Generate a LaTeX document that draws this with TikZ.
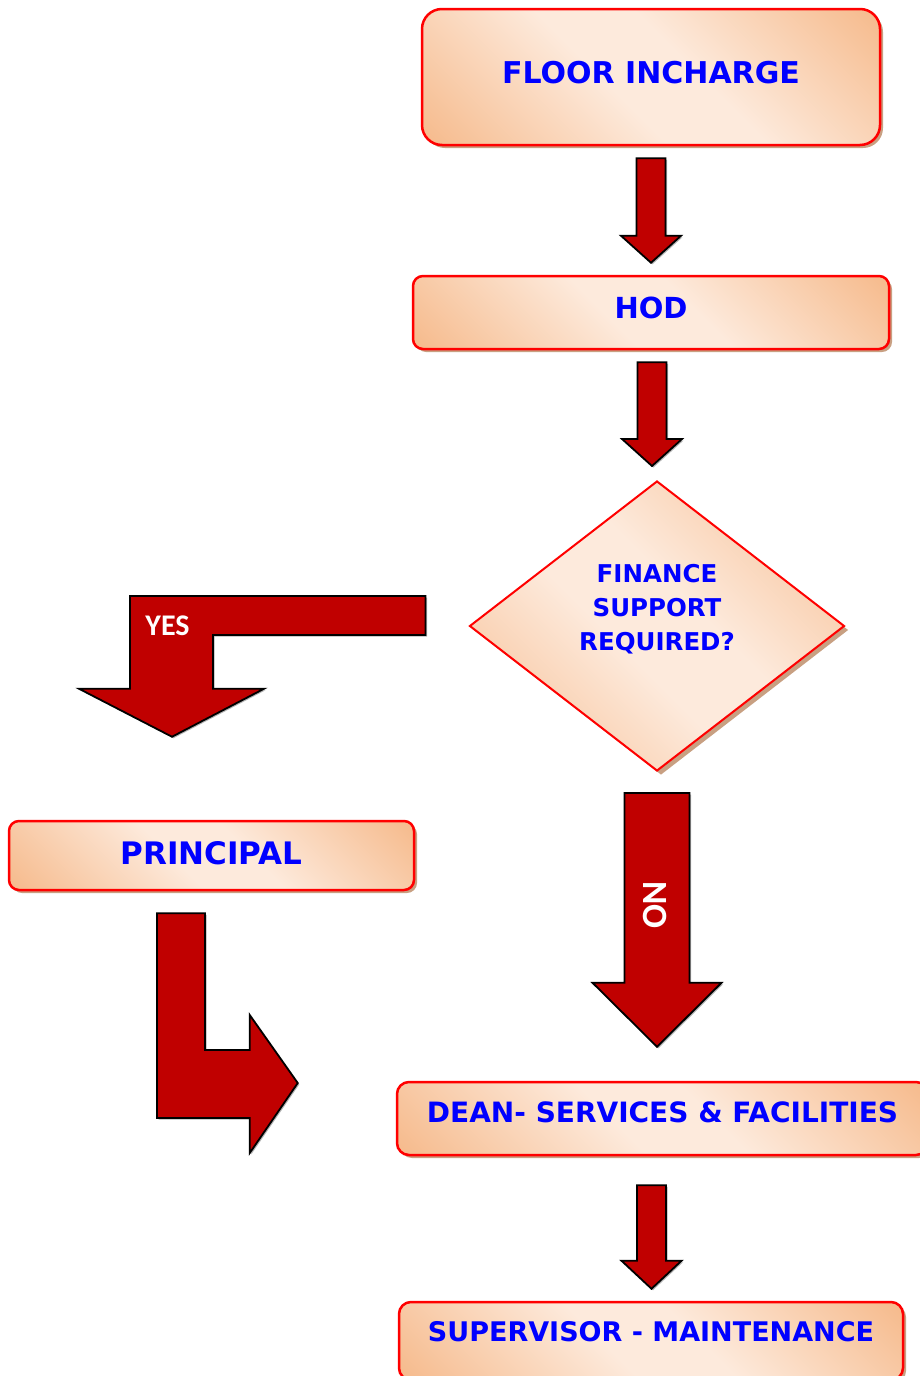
\documentclass[tikz,border=0pt]{standalone}
\usepackage{fontspec}
\setmainfont{DejaVu Sans}
\newfontfamily\carlito{Carlito}
\usetikzlibrary{calc,shapes.geometric,shadows}
\definecolor{pOr}{RGB}{246,188,143}
\definecolor{pLt}{RGB}{253,234,220}
\definecolor{bxred}{RGB}{255,0,0}
\definecolor{arrred}{RGB}{192,0,0}
\definecolor{txtblue}{RGB}{0,0,255}
\definecolor{shd}{RGB}{200,160,130}
\pgfdeclareverticalshading{peachsh}{100bp}{color(0bp)=(pOr); color(16bp)=(pOr); color(44bp)=(pLt); color(56bp)=(pLt); color(84bp)=(pOr); color(100bp)=(pOr)}
\tikzset{
  flowbox/.style={draw=bxred, line width=2.5pt, rounded corners=#1, shading=peachsh, shading angle=-45,
    drop shadow={shadow xshift=3pt, shadow yshift=-3pt, fill=shd, opacity=1},
    text=txtblue, inner sep=0pt},
  boxtxt/.style n args={2}{font=\bfseries\fontsize{#1}{34}\selectfont, text height=0.729*#1 pt, text depth=#2},
  barrow/.style={fill=arrred, draw=black, line width=1.8pt, line join=miter,
    drop shadow={shadow xshift=1.5pt, shadow yshift=-1.5pt, fill=black!30, opacity=1}},
  arrlbl/.style={text=white, font=\carlito\bfseries\fontsize{#1}{34}\selectfont, inner sep=0pt}
}
% straight block arrow: from, to, top gap, bottom gap, x offset, shaft half, head half, head length
\newcommand\blk[8]{%
  \draw[barrow] let \p1=(#1.south), \p2=(#2.north) in
    (\x1+#5pt-#6pt,\y1-#3pt) -- (\x1+#5pt+#6pt,\y1-#3pt)
    -- (\x1+#5pt+#6pt,\y2+#4pt+#8pt) -- (\x1+#5pt+#7pt,\y2+#4pt+#8pt)
    -- (\x1+#5pt,\y2+#4pt)
    -- (\x1+#5pt-#7pt,\y2+#4pt+#8pt) -- (\x1+#5pt-#6pt,\y2+#4pt+#8pt) -- cycle;}
\begin{document}
\begin{tikzpicture}[x=1pt,y=-1pt]
\clip (0,0) rectangle (920,1376);

\node[flowbox=20pt, minimum width=458pt, minimum height=136pt, boxtxt={30}{8pt}] (floor) at (651,77) {FLOOR INCHARGE};
\node[flowbox=10pt, minimum width=476pt, minimum height=73pt, boxtxt={29}{9pt}] (hod) at (651,312.5) {HOD};
\node[diamond, aspect=1.293, minimum width=375pt, minimum height=290pt, inner sep=0pt,
      draw=bxred, line width=2pt, shading=peachsh, shading angle=-45,
      drop shadow={shadow xshift=4pt, shadow yshift=-4pt, fill=shd, opacity=1},
      text=txtblue, align=center, font=\bfseries\fontsize{24.5}{34}\selectfont] (dia) at (657,626)
      {FINANCE\\SUPPORT\\REQUIRED?\\[4pt]\mbox{}};
\node[flowbox=10pt, minimum width=405pt, minimum height=69pt, boxtxt={31}{5pt}] (principal) at (211.5,855.5) {PRINCIPAL};
\node[flowbox=12pt, minimum width=531pt, minimum height=73pt, boxtxt={28}{13pt}] (dean) at (662.5,1118.5) {DEAN- SERVICES \& FACILITIES};
\node[flowbox=12pt, minimum width=504pt, minimum height=78pt, boxtxt={27}{18pt}] (sup) at (651,1341) {SUPERVISOR - MAINTENANCE};

\blk{floor}{hod}{12}{12}{0}{14.5}{30}{27}
\blk{hod}{dia}{12}{14}{1}{14.5}{30}{27}
\blk{dia}{dean}{21}{34}{0}{32.5}{64.5}{64}
\blk{dean}{sup}{29}{12}{-11}{14.5}{30}{28}

% YES arrow: diamond -> principal
\draw[barrow] let \p1=(dia.west), \p2=(principal.north) in
  (\x1-43pt,\y1+30pt) -- (\x1-43pt,\y1-9pt) -- (\x2+1.5pt,\y1-9pt)
  -- (\x2+1.5pt,\y2+131pt) -- (\x2+52.5pt,\y2+131pt) -- (\x2-39.5pt,\y2+83pt)
  -- (\x2-132.5pt,\y2+131pt) -- (\x2-81.5pt,\y2+131pt) -- (\x2-81.5pt,\y1+30pt) -- cycle;

% bent arrow: principal -> dean
\draw[barrow] let \p1=(principal.south), \p2=(dean.west) in
  (\x1-54.5pt,\y1-22pt) -- (\x1-6.5pt,\y1-22pt) -- (\x1-6.5pt,\y2+68.5pt)
  -- (\x2-146pt,\y2+68.5pt) -- (\x2-146pt,\y2+103.5pt) -- (\x2-98pt,\y2+35.5pt)
  -- (\x2-146pt,\y2-34.5pt) -- (\x2-146pt,\y2+0.5pt) -- (\x1-54.5pt,\y2+0.5pt) -- cycle;

\node[arrlbl=30] (yes) at (167.5,626) {YES};
\node[arrlbl=35.5, rotate=-90] (no) at (655.5,905) {NO};
\end{tikzpicture}
\end{document}
